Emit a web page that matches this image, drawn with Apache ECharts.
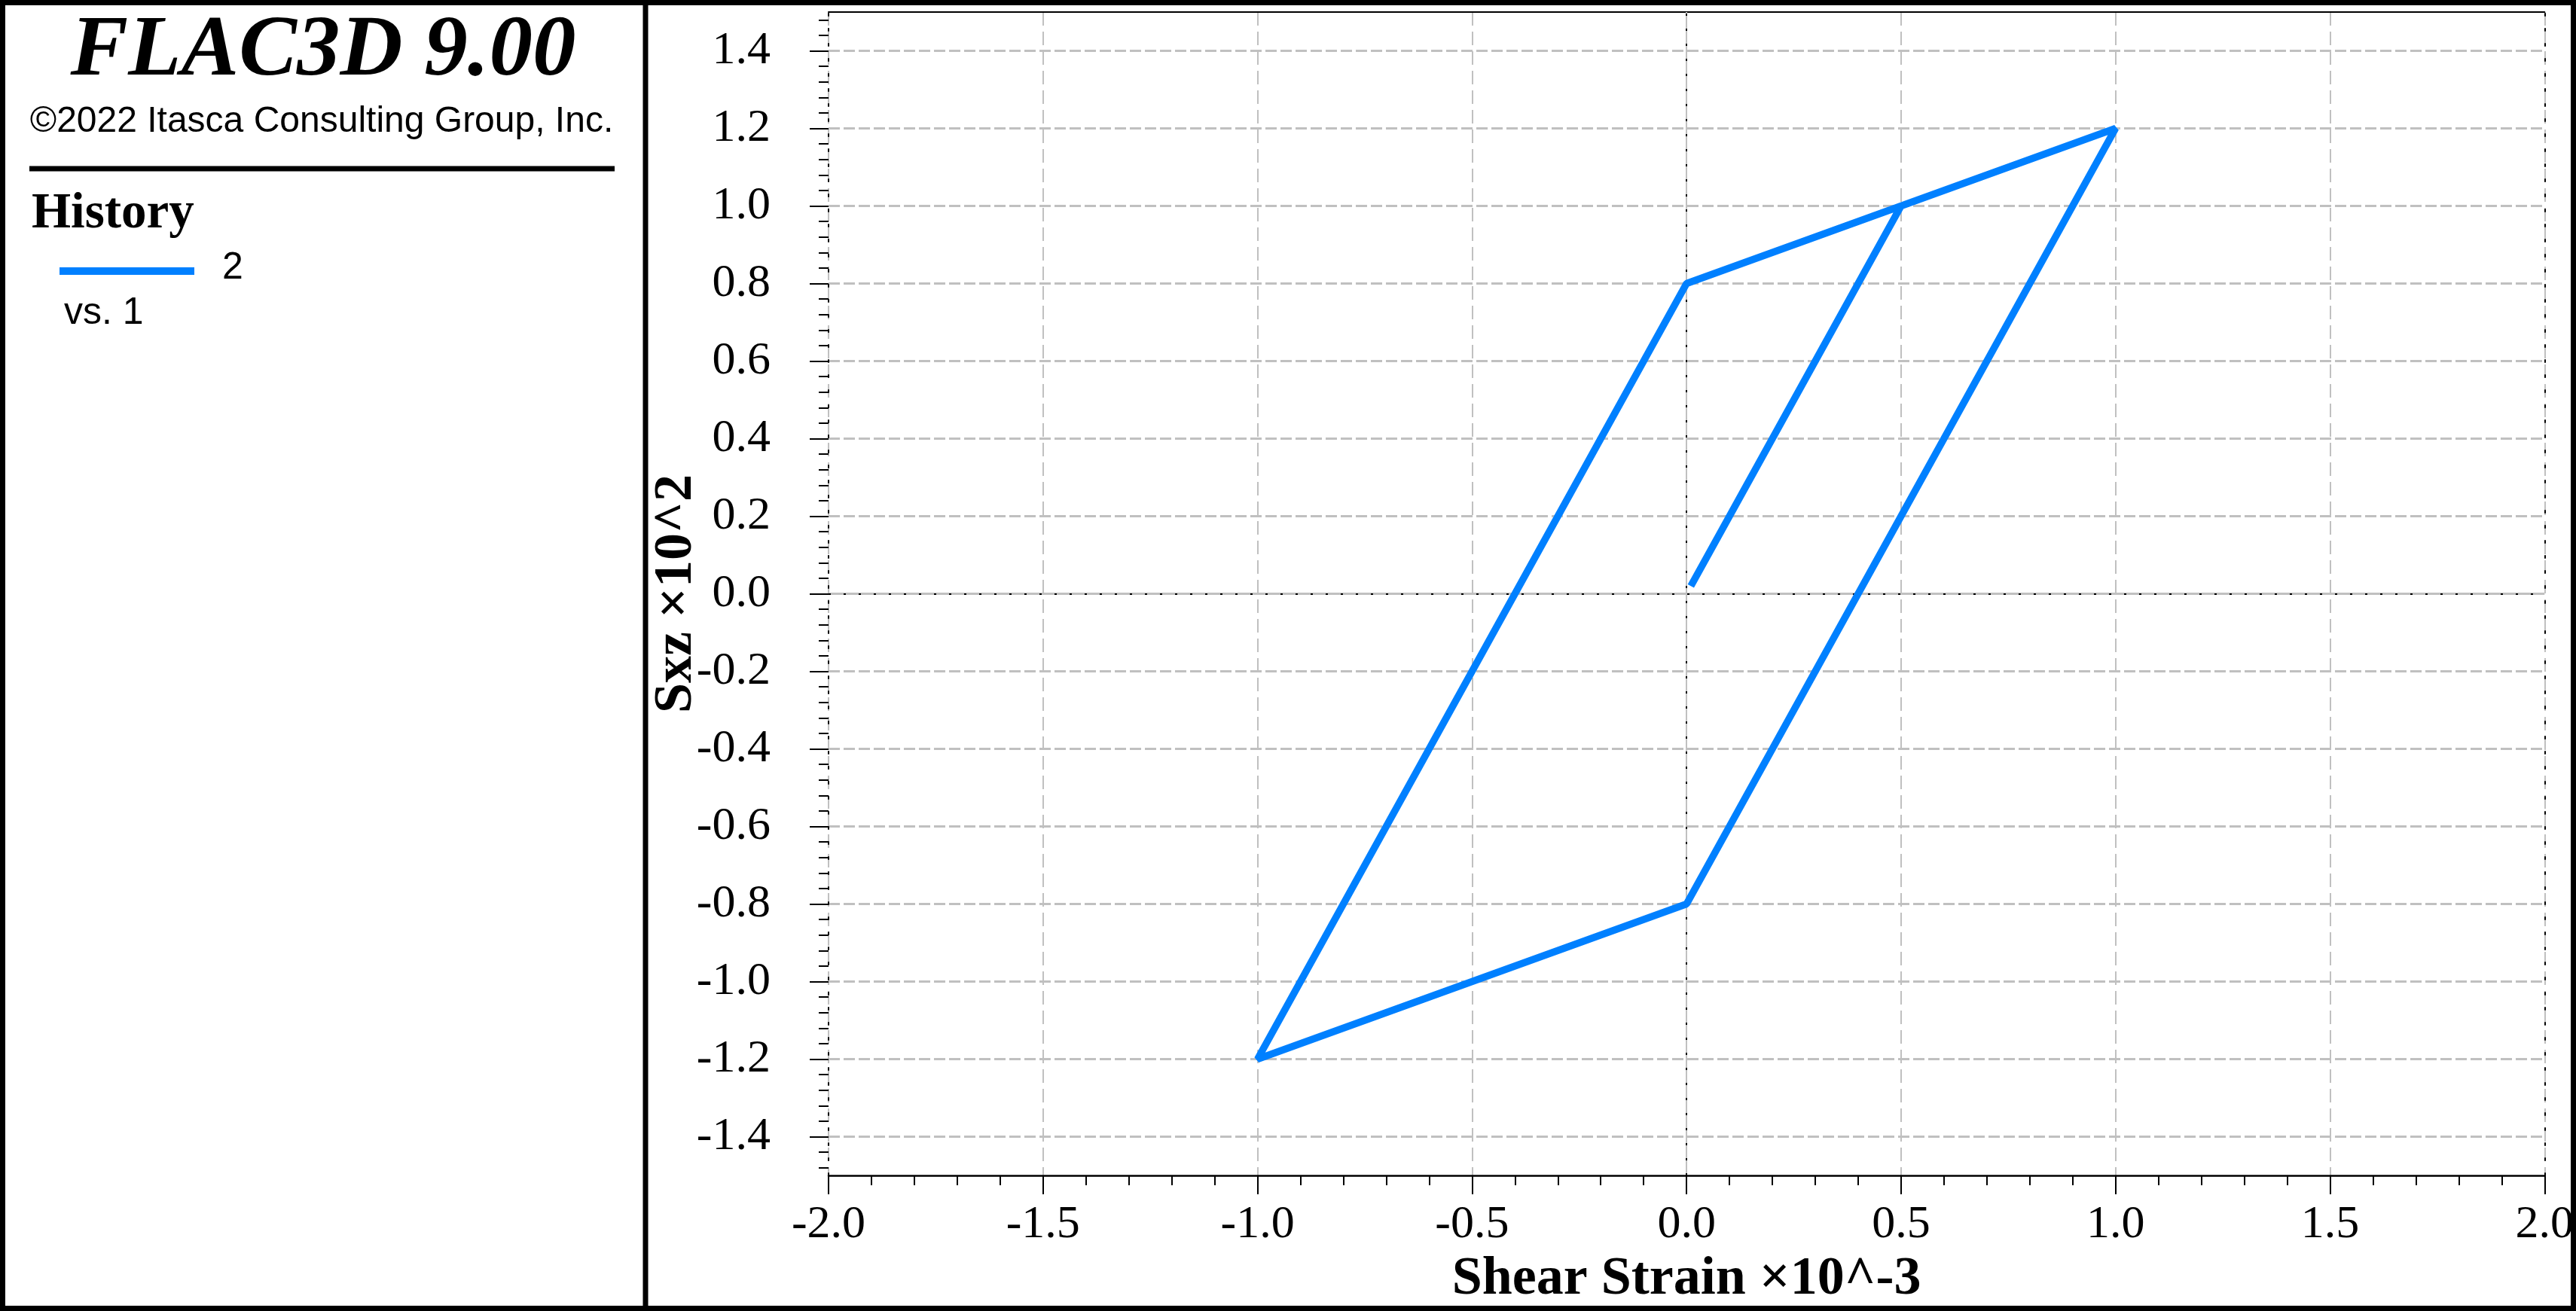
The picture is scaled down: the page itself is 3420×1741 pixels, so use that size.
<!DOCTYPE html>
<html>
<head>
<meta charset="utf-8">
<script src="https://cdn.jsdelivr.net/npm/echarts@6/dist/echarts.min.js"></script>
<style>
html,body{margin:0;padding:0;background:#fff;}
#c{width:3420px;height:1741px;}
</style>
</head>
<body>
<div id="c"></div>
<script>
// ---- data ----
const strain = [0.01, 0.5, 1.0, 0.0, -1.0, 0.0, 1.0];       // Shear Strain x10^-3
const stress = [0.02, 1.0, 1.2, -0.8, -1.2, 0.8, 1.2];      // Sxz x10^2
const seriesName = '2';
const yTickValues = [-1.4, -1.2, -1.0, -0.8, -0.6, -0.4, -0.2, 0.0, 0.2, 0.4, 0.6, 0.8, 1.0, 1.2, 1.4];
const yMinorOffsets = [-0.08, -0.04, 0.04, 0.08];
const titleText = 'FLAC3D 9.00';
const copyrightText = '\u00A92022 Itasca Consulting Group, Inc.';
const legendHeader = 'History';
const legendVs = 'vs. 1';
const xName = 'Shear Strain \u00D710^-3';
const yName = 'Sxz \u00D710^2';

// ---- derived ----
const points = strain.map((x, i) => [x, stress[i]]);
const yMinorValues = [];
yTickValues.forEach(v => yMinorOffsets.forEach(o => {
  const m = Math.round((v + o) * 100) / 100;
  if (yMinorValues.indexOf(m) < 0) yMinorValues.push(m);
}));

const serif = 'Liberation Serif';
const blue = '#0080ff';
const gridGrey = '#c0c0c0';
const fmt1 = v => Number(v).toFixed(1);

const chart = echarts.init(document.getElementById('c'), null, {renderer: 'canvas'});
chart.setOption({
  animation: false,
  backgroundColor: '#ffffff',
  grid: {left: 1100, right: 38, top: 16, bottom: 180, containLabel: false},
  xAxis: [
    {
      type: 'value', position: 'bottom', min: -2, max: 2, interval: 0.5,
      axisLine: {show: true, onZero: false, lineStyle: {color: '#000', width: 2.5}},
      axisTick: {show: true, inside: false, length: 25, lineStyle: {color: '#000', width: 2}},
      minorTick: {show: true, splitNumber: 5, length: 13, lineStyle: {color: '#000', width: 2}},
      axisLabel: {show: true, margin: 35, color: '#000', fontFamily: serif, fontSize: 62,
                  showMinLabel: true, showMaxLabel: true, formatter: fmt1},
      splitLine: {show: true, lineStyle: {color: gridGrey, width: 2, type: [18, 8]}},
      minorSplitLine: {show: false},
      name: xName, nameLocation: 'middle', nameGap: 102, nameMoveOverlap: false,
      nameTextStyle: {fontFamily: serif, fontWeight: 'bold', fontSize: 72, color: '#000'}
    },
    {
      type: 'value', position: 'top', min: -2, max: 2, interval: 0.5,
      axisLine: {show: true, onZero: false, lineStyle: {color: '#000', width: 2}},
      axisTick: {show: false}, axisLabel: {show: false}, splitLine: {show: false}
    }
  ],
  yAxis: [
    {
      type: 'value', position: 'left', min: -1.5, max: 1.5, splitNumber: 15,
      axisLine: {show: true, onZero: false, lineStyle: {color: '#000', width: 2, type: [3, 17]}},
      axisTick: {show: true, inside: false, length: 25, customValues: yTickValues,
                 lineStyle: {color: '#000', width: 2}},
      axisLabel: {show: true, margin: 77, color: '#000', fontFamily: serif, fontSize: 62,
                  customValues: yTickValues, formatter: fmt1},
      splitLine: {show: true, lineStyle: {color: gridGrey, width: 3, type: [15, 5]}},
      name: yName, nameLocation: 'middle', nameGap: 166, nameMoveOverlap: false,
      nameTextStyle: {fontFamily: serif, fontWeight: 'bold', fontSize: 72, color: '#000'}
    },
    {
      type: 'value', position: 'left', min: -1.5, max: 1.5,
      axisLine: {show: false, onZero: false},
      axisTick: {show: true, inside: false, length: 13, customValues: yMinorValues,
                 lineStyle: {color: '#000', width: 2}},
      axisLabel: {show: false}, splitLine: {show: false}
    },
    {
      type: 'value', position: 'right', min: -1.5, max: 1.5,
      axisLine: {show: true, onZero: false, lineStyle: {color: '#000', width: 2, type: [3, 17]}},
      axisTick: {show: false}, axisLabel: {show: false}, splitLine: {show: false}
    }
  ],
  series: [
    {
      name: seriesName, type: 'line', xAxisIndex: 0, yAxisIndex: 0,
      data: points, showSymbol: false, symbol: 'none', smooth: false,
      lineStyle: {color: blue, width: 9.5, join: 'bevel', cap: 'butt'},
      z: 5,
      markLine: {
        silent: true, symbol: ['none', 'none'], label: {show: false},
        animation: false,
        data: [
          {xAxis: 0, lineStyle: {color: gridGrey, width: 2, type: 'solid'}},
          {yAxis: 0, lineStyle: {color: gridGrey, width: 3, type: 'solid'}},
          {xAxis: 0, lineStyle: {color: '#000', width: 2, type: [3, 17]}},
          {yAxis: 0, lineStyle: {color: '#000', width: 2, type: [3, 17]}}
        ]
      }
    }
  ],
  graphic: [
    // side panel texts
    {type: 'text', z: 50, style: {text: titleText, x: 429, y: 69, font: 'italic bold 115px "Liberation Serif"',
      fill: '#000', align: 'center', textAlign: 'center', verticalAlign: 'middle', textVerticalAlign: 'middle'}},
    {type: 'text', z: 50, style: {text: copyrightText, x: 427, y: 162, font: '48px "Liberation Sans"',
      fill: '#000', align: 'center', textAlign: 'center', verticalAlign: 'middle', textVerticalAlign: 'middle'}},
    {type: 'line', z: 50, shape: {x1: 39, y1: 224, x2: 816, y2: 224}, style: {stroke: '#000', lineWidth: 7}},
    {type: 'text', z: 50, style: {text: legendHeader, x: 42, y: 285, font: 'bold 67px "Liberation Serif"',
      fill: '#000', align: 'left', textAlign: 'left', verticalAlign: 'middle', textVerticalAlign: 'middle'}},
    {type: 'line', z: 50, shape: {x1: 79, y1: 360, x2: 258, y2: 360}, style: {stroke: blue, lineWidth: 10}},
    {type: 'text', z: 50, style: {text: seriesName, x: 295, y: 356, font: '50px "Liberation Sans"',
      fill: '#000', align: 'left', textAlign: 'left', verticalAlign: 'middle', textVerticalAlign: 'middle'}},
    {type: 'text', z: 50, style: {text: legendVs, x: 85, y: 416, font: '50px "Liberation Sans"',
      fill: '#000', align: 'left', textAlign: 'left', verticalAlign: 'middle', textVerticalAlign: 'middle'}},
    // frame and divider
    {type: 'line', z: 100, shape: {x1: 857, y1: 0, x2: 857, y2: 1741}, style: {stroke: '#000', lineWidth: 7}},
    {type: 'rect', z: 100, shape: {x: 3.5, y: 3.5, width: 3413, height: 1734},
      style: {fill: 'none', stroke: '#000', lineWidth: 7}}
  ]
});
</script>
</body>
</html>
